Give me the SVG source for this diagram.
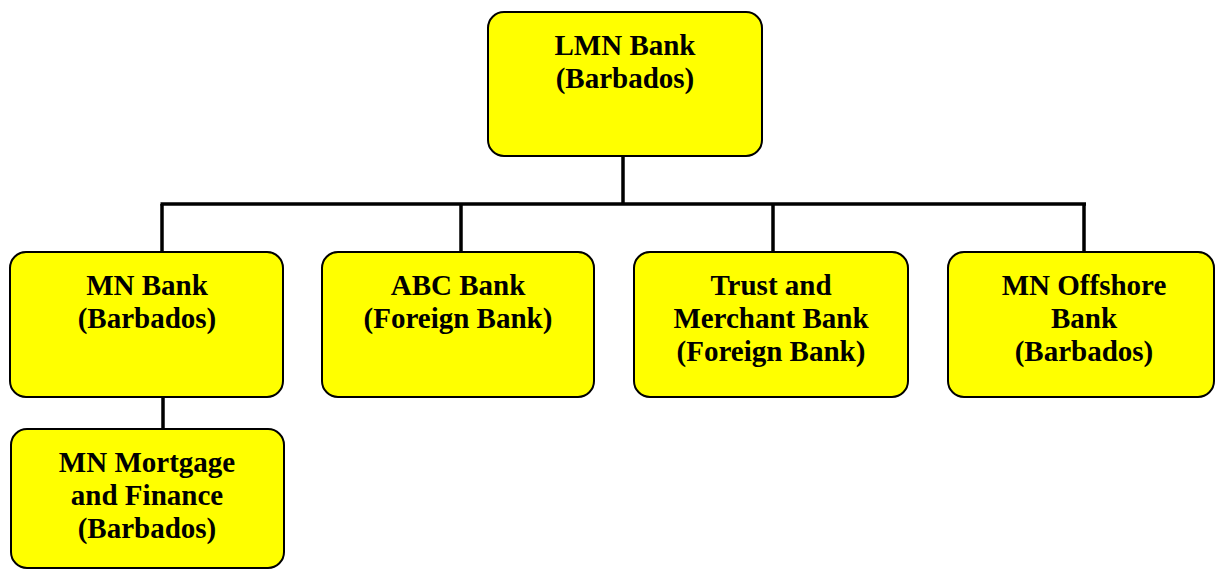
<svg xmlns="http://www.w3.org/2000/svg" width="1215" height="570" viewBox="0 0 1215 570">
<style>
.box{fill:#ffff00;stroke:#000;stroke-width:2}
.t{font-family:"Liberation Serif","Times New Roman",serif;font-weight:bold;font-size:29px;fill:#000;text-anchor:middle}
.c{stroke:#000;stroke-width:3.5;fill:none}
</style>
<rect width="1215" height="570" fill="#fff"/>
<g id="connectors">
<line class="c" x1="623" y1="156" x2="623" y2="204"/>
<line class="c" x1="160.5" y1="204" x2="1086" y2="204"/>
<line class="c" x1="162" y1="204" x2="162" y2="252"/>
<line class="c" x1="461" y1="204" x2="461" y2="252"/>
<line class="c" x1="773" y1="204" x2="773" y2="252"/>
<line class="c" x1="1084" y1="204" x2="1084" y2="252"/>
<line class="c" x1="163" y1="397" x2="163" y2="429"/>
</g>
<g id="lmn">
<rect class="box" x="488" y="12" width="274" height="144" rx="16"/>
<text class="t" x="625" y="55">LMN Bank</text>
<text class="t" x="625" y="88">(Barbados)</text>
</g>
<g id="mnbank">
<rect class="box" x="10" y="252" width="273" height="145" rx="16"/>
<text class="t" x="147" y="295">MN Bank</text>
<text class="t" x="147" y="328">(Barbados)</text>
</g>
<g id="abc">
<rect class="box" x="322" y="252" width="272" height="145" rx="16"/>
<text class="t" x="458" y="295">ABC Bank</text>
<text class="t" x="458" y="328">(Foreign Bank)</text>
</g>
<g id="trust">
<rect class="box" x="634" y="252" width="274" height="145" rx="16"/>
<text class="t" x="771" y="295">Trust and</text>
<text class="t" x="771" y="328">Merchant Bank</text>
<text class="t" x="771" y="361">(Foreign Bank)</text>
</g>
<g id="offshore">
<rect class="box" x="948" y="252" width="266" height="145" rx="16"/>
<text class="t" x="1084" y="295">MN Offshore</text>
<text class="t" x="1084" y="328">Bank</text>
<text class="t" x="1084" y="361">(Barbados)</text>
</g>
<g id="mortgage">
<rect class="box" x="11" y="429" width="273" height="139" rx="16"/>
<text class="t" x="147" y="472">MN Mortgage</text>
<text class="t" x="147" y="505">and Finance</text>
<text class="t" x="147" y="538">(Barbados)</text>
</g>
</svg>
